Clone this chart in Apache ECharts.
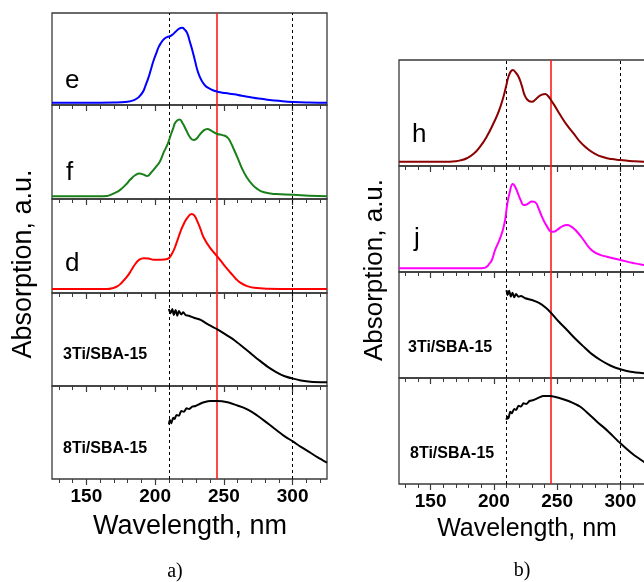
<!DOCTYPE html>
<html>
<head>
<meta charset="utf-8">
<script src="https://cdn.jsdelivr.net/npm/echarts@6/dist/echarts.min.js"></script>
<style>
  html, body { margin: 0; padding: 0; background: #fff; }
  #chart { width: 644px; height: 582px; }
</style>
</head>
<body>
<div id="chart"></div>
<script>
// wavelength axis
var wlMin = 125, wlMax = 325;
var majorTicks = [150, 200, 250, 300];
var minorTicks = [130, 140, 150, 160, 170, 180, 190, 200, 210, 220, 230, 240, 250, 260, 270, 280, 290, 300, 310, 320];
var dashLines = [210, 300];
var redLine = 245;

// panel a) curves, [nm, absorption a.u.]
var eCurve = [[125,2.5],[150,2.5],[170,2.7],[180,3.5],[185,5.5],[188,8.5],[191,14],[193,21],[195.4,30.8],[197.2,40],[199,48.9],[201,57],[202.7,63.4],[204.5,68],[206.3,71.4],[209,74],[211.2,75],[213,77],[214.9,79.7],[217.5,83],[219.7,84],[221.5,82],[223.4,77.9],[225.2,69],[227,59.8],[229,48],[230.7,38],[232.5,30.5],[234.3,25.3],[236.5,21],[239.1,18.2],[242,16],[245.3,14.5],[251,13],[257.4,11.6],[263,10],[269.5,8.4],[275,7.1],[281.7,5.8],[290,4.5],[300.4,3.3],[312,2.7],[325,2.5]];
var fCurve = [[125,2.9],[160,2.9],[165,3.3],[168,4.6],[171.5,7],[174.8,10],[178.5,15],[182,20.7],[185.7,25.5],[188.8,27],[191.5,26],[194.2,24.4],[197,28],[200.3,33.6],[203.5,40],[206.3,49.8],[209,58],[211.2,67.4],[213.2,75.5],[214.9,81.7],[217.8,84.5],[220,80.5],[222.2,74.5],[225,66.5],[227.8,62.7],[230,64],[231.9,67.4],[235,72.5],[238,74.5],[241,72.5],[245.3,69.1],[249,68],[252.6,65.5],[255,60],[257.4,52.4],[260.5,42],[263.5,31.5],[266.5,23.5],[269.5,17.4],[274,11],[279.2,7.1],[288,5.2],[300.4,4.6],[312,3.5],[325,2.9]];
var dCurve = [[125,4.3],[165,4.3],[168.5,5],[172.4,7],[176,11.5],[179.7,17.6],[183,25],[185.7,31.1],[188.5,35.5],[191.8,37.1],[195,36.8],[199,35.4],[204,35.4],[208.8,36.1],[212.5,42.6],[215.5,53],[218.5,65.6],[221,74],[223.4,79.8],[226.5,84],[228.5,82.5],[230.7,76.2],[233,68],[235.5,58.5],[240,48],[245.3,38.8],[250,30],[255,21.3],[258.5,15.5],[262.2,10.7],[267,7.3],[271.9,5.6],[282,4.6],[300.4,4.3],[325,4.3]];
var ti3aCurve = [[210,82.8],[211.2,78.2],[212.5,82.8],[213.6,76.3],[214.9,81.7],[216.1,75.6],[217.3,80.6],[219,77],[220.5,79.2],[222.2,76.3],[224.6,75.6],[228.2,73.4],[233.1,71],[239.1,65.6],[245.3,61],[250,56.5],[257.4,49.5],[263,43],[269.5,35.1],[275,28.5],[281.7,20.8],[288,15],[293.8,10.8],[300.4,7.9],[306,6],[313,4.6],[325,4]];
var ti8aCurve = [[210,58.8],[210.7,63.4],[211.7,59.9],[213.2,65.9],[214.1,64.5],[215.6,68.8],[217.3,68],[219,73.1],[220.9,72.3],[222.9,76],[224.6,75.3],[227,77.8],[229.4,78.5],[231.9,80.3],[235.5,82.5],[240.4,83.9],[245.3,83.9],[252.6,82.5],[259.8,79],[264.7,76.5],[270,72.5],[275,67.5],[280,62],[286.5,54.5],[293,47.2],[300.4,40.1],[306,34.6],[313,28.2],[318,23.5],[325,17.5]];

// panel b) curves
var hCurve = [[125,4.1],[165,4.1],[170,4.5],[174,5.5],[178.6,7.3],[184,11.5],[189.1,18.2],[194.5,28],[199.7,40.3],[204,52],[207.6,65.4],[209.8,76],[211.5,84.2],[213.3,89],[215,90.6],[217,88.5],[219.5,84.2],[222,76],[224.8,65.4],[227.5,61.5],[230.1,60.7],[232.7,62.5],[235.3,65.4],[238,67.3],[240.6,67.9],[242.8,66],[245.1,62.3],[248.5,56],[252.5,48.1],[257.5,39],[263,30.8],[268,23],[273.6,16.7],[280,11.5],[286.8,8.2],[293,6.5],[300,5.7],[310,4.5],[318.4,4.1],[325,4.1]];
var jCurve = [[125,3.5],[188,3.5],[191.8,3.8],[194.4,5],[196.5,8],[198.4,11.3],[201,20.8],[204.4,30.2],[207.1,39.6],[209,50],[210.5,63.2],[212.5,75],[215,83],[217,80],[219.5,72.6],[221.5,67],[223.4,63.2],[225.5,63.5],[227.4,64.8],[230,66.5],[232.7,65.8],[235.5,59.5],[238,52.2],[241.5,44],[245.9,38],[248,38.2],[249.9,39.6],[254,43],[257.8,44.3],[261.5,42.5],[265.7,38],[270.9,30.2],[275,23.5],[278.8,19.2],[284,16.2],[289.4,14.4],[300,11.3],[310,8.5],[318.4,6.6],[325,5.7]];
var ti3bCurve = [[210,83],[210.8,78.3],[212.1,82.4],[213.4,76.7],[214.7,80.5],[216.1,76.1],[217.6,79.2],[219.5,76.7],[221.4,77.4],[224.8,75.2],[230.1,73.6],[235.3,71],[240.6,66.7],[245.1,61.6],[251,53.5],[257.8,45.3],[264,37.5],[270.9,29.6],[277,23],[284.2,17],[292,11.8],[300,8.2],[308,5.8],[318.4,4.4],[325,4]];
var ti8bCurve = [[210,60.4],[210.5,63.5],[211.5,62],[212.9,68.2],[214.2,66.7],[216.1,70.8],[217.6,69.8],[219.5,73.9],[221.4,73],[223.4,76.1],[225.6,75.5],[228.2,78.3],[231.3,79.2],[235.3,81.4],[239.3,83],[244.6,83],[251.1,81.4],[259,78.3],[268.3,72.9],[275,66],[281.5,58.8],[290,50],[300,38.4],[310,28],[318.4,21],[325,16]];

var panelsA = [
  { label: 'e', data: eCurve, color: '#0000ff', noisy: false },
  { label: 'f', data: fCurve, color: '#1a801a', noisy: false },
  { label: 'd', data: dCurve, color: '#ff0000', noisy: false },
  { label: '3Ti/SBA-15', data: ti3aCurve, color: '#000000', noisy: true },
  { label: '8Ti/SBA-15', data: ti8aCurve, color: '#000000', noisy: true }
];
var panelsB = [
  { label: 'h', data: hCurve, color: '#8b0000', noisy: false },
  { label: 'j', data: jCurve, color: '#ff00ff', noisy: false },
  { label: '3Ti/SBA-15', data: ti3bCurve, color: '#000000', noisy: true },
  { label: '8Ti/SBA-15', data: ti8bCurve, color: '#000000', noisy: true }
];

// layout (pixels)
var edgesA = [13, 105, 199, 293, 386, 479];
var edgesB = [60, 166, 272, 378, 484];
var labelPosA = [[65, 81], [66, 173], [65, 264], [63, 355], [63, 449]];
var labelPosB = [[412, 135], [414, 239], [408, 348], [410, 454]];

var frame = '#3a3a3a';
var sans = '"Liberation Sans", Arial, sans-serif';
var grids = [], xAxes = [], yAxes = [], series = [], graphics = [];

function addPanel(p, left, width, top, height, isBottom, pos) {
  var gi = grids.length;
  grids.push({ left: left, top: top, width: width, height: height, show: true,
    borderColor: frame, borderWidth: 1.3, outerBoundsMode: 'none' });
  // minor ticks every 10 nm
  xAxes.push({ gridIndex: gi, type: 'value', min: wlMin, max: wlMax, position: 'bottom',
    axisLine: { show: false }, splitLine: { show: false },
    axisTick: { show: true, length: 4, customValues: minorTicks, lineStyle: { color: frame, width: 1 } },
    axisLabel: { show: false } });
  // major ticks + labels
  xAxes.push({ gridIndex: gi, type: 'value', min: wlMin, max: wlMax, position: 'bottom',
    axisLine: { show: false }, splitLine: { show: false },
    axisTick: { show: true, length: 6, customValues: majorTicks, lineStyle: { color: frame, width: 1.2 } },
    axisLabel: { show: isBottom, customValues: majorTicks, margin: 8, color: '#000',
      fontSize: 19, fontWeight: 'bold', fontFamily: sans } });
  yAxes.push({ gridIndex: gi, type: 'value', min: 0, max: 100, show: false });

  var marks = dashLines.map(function (v) {
    return { xAxis: v, lineStyle: { color: '#000', type: [3, 3], width: 1 } };
  });
  marks.push({ xAxis: redLine, lineStyle: { color: '#ff1a1a', type: 'solid', width: 1.6 } });

  series.push({ type: 'line', xAxisIndex: 2 * gi, yAxisIndex: gi, data: p.data,
    showSymbol: false, smooth: p.noisy ? 0.25 : 0.5, z: 3,
    lineStyle: { color: p.color, width: 2 },
    markLine: { silent: true, symbol: 'none', label: { show: false }, z: 2, data: marks } });

  var big = p.label.length === 1;
  graphics.push({ type: 'text', x: pos[0], y: pos[1],
    style: { text: p.label, fill: '#000', font: (big ? '' : 'bold ') + (big ? 26 : 16) + 'px ' + sans,
      textAlign: 'left', textVerticalAlign: 'middle' } });
}

panelsA.forEach(function (p, i) {
  addPanel(p, 52, 275, edgesA[i], edgesA[i + 1] - edgesA[i], i === panelsA.length - 1, labelPosA[i]);
});
panelsB.forEach(function (p, i) {
  addPanel(p, 399, 253, edgesB[i], edgesB[i + 1] - edgesB[i], i === panelsB.length - 1, labelPosB[i]);
});

// axis titles and panel captions
graphics.push({ type: 'text', x: 24, y: 264, rotation: Math.PI / 2,
  style: { text: 'Absorption, a.u.', fill: '#000', font: '27px ' + sans, textAlign: 'center', textVerticalAlign: 'middle' } });
graphics.push({ type: 'text', x: 375, y: 270, rotation: Math.PI / 2,
  style: { text: 'Absorption, a.u.', fill: '#000', font: '26px ' + sans, textAlign: 'center', textVerticalAlign: 'middle' } });
graphics.push({ type: 'text', x: 190, y: 527,
  style: { text: 'Wavelength, nm', fill: '#000', font: '27px ' + sans, textAlign: 'center', textVerticalAlign: 'middle' } });
graphics.push({ type: 'text', x: 527, y: 529,
  style: { text: 'Wavelength, nm', fill: '#000', font: '25px ' + sans, textAlign: 'center', textVerticalAlign: 'middle' } });
graphics.push({ type: 'text', x: 175, y: 572,
  style: { text: 'a)', fill: '#000', font: '20px "Liberation Serif", "Times New Roman", serif', textAlign: 'center', textVerticalAlign: 'middle' } });
graphics.push({ type: 'text', x: 522, y: 571,
  style: { text: 'b)', fill: '#000', font: '20px "Liberation Serif", "Times New Roman", serif', textAlign: 'center', textVerticalAlign: 'middle' } });

var chart = echarts.init(document.getElementById('chart'), null, { renderer: 'canvas' });
chart.setOption({
  animation: false,
  backgroundColor: '#fff',
  grid: grids,
  xAxis: xAxes,
  yAxis: yAxes,
  series: series,
  graphic: graphics
});
</script>
</body>
</html>
